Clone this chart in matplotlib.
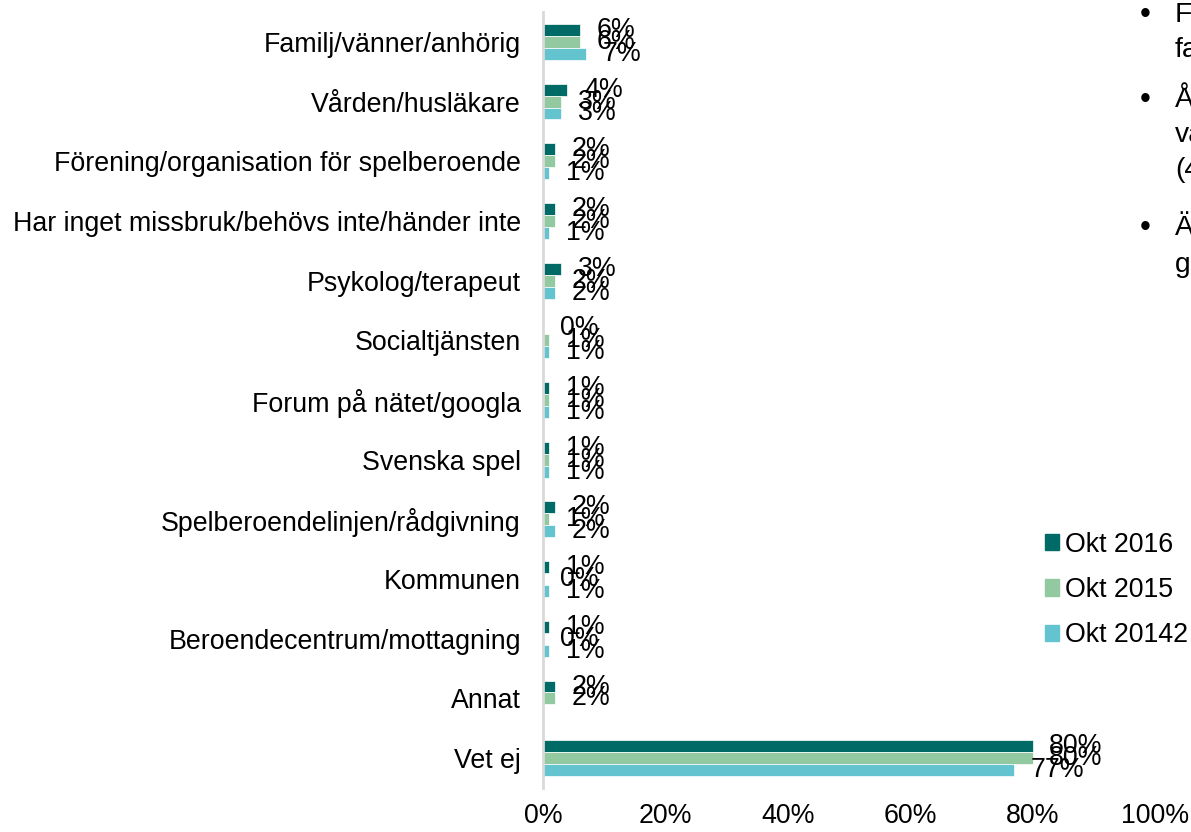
import numpy as np
import matplotlib
matplotlib.use('Agg')
import matplotlib.pyplot as plt
from matplotlib.patches import Patch

plt.rcParams['font.family'] = ['Liberation Sans', 'DejaVu Sans']

categories = ['Familj/vänner/anhörig', 'Vården/husläkare', 'Förening/organisation för spelberoende',
              'Har inget missbruk/behövs inte/händer inte', 'Psykolog/terapeut', 'Socialtjänsten',
              'Forum på nätet/googla', 'Svenska spel', 'Spelberoendelinjen/rådgivning', 'Kommunen',
              'Beroendecentrum/mottagning', 'Annat', 'Vet ej']
okt2016 = [6, 4, 2, 2, 3, 0, 1, 1, 2, 1, 1, 2, 80]
okt2015 = [6, 3, 2, 2, 2, 1, 1, 1, 1, 0, 0, 2, 80]
okt2014 = [7, 3, 1, 1, 2, 1, 1, 1, 2, 1, 1, np.nan, 77]
series = [('Okt 2016', okt2016, '#006B66'), ('Okt 2015', okt2015, '#93C9A0'), ('Okt 20142', okt2014, '#63C3CF')]
xticks = [0, 20, 40, 60, 80, 100]

W, H = 1191, 832
fig = plt.figure(figsize=(W / 100, H / 100), dpi=100)
ax = fig.add_axes([543 / W, 1 - 788 / H, (1155 - 543) / W, (788 - 12) / H])

y = np.arange(len(categories))
fs = 19.3
for k, (name, vals, col) in enumerate(series):
    yy = y + (k - 1) * 0.2
    ax.barh(yy, vals, height=0.2, color=col, edgecolor='white', linewidth=0.5)
    for yi, v in zip(yy, vals):
        if np.isnan(v):
            continue
        ax.text(v + 2.7, yi, f'{int(v)}%', va='center', ha='left', fontsize=fs, color='black')

ax.set_xlim(0, 100)
ax.set_ylim(len(categories) - 0.5, -0.5)
ax.set_xticks(xticks)
ax.set_xticklabels([f'{t}%' for t in xticks])
ax.set_yticks(y)
ax.set_yticklabels(categories)
ax.tick_params(axis='x', length=0, pad=11, labelsize=fs)
ax.tick_params(axis='y', length=0, pad=16, labelsize=fs)
for s in ['top', 'right', 'bottom']:
    ax.spines[s].set_visible(False)
ax.spines['left'].set_color('#D9D9D9')
ax.spines['left'].set_linewidth(2)

handles = [Patch(color=c, label=n) for n, _, c in series]
fig.legend(handles=handles, loc='upper left', bbox_to_anchor=(1034 / W, 1 - 521 / H), frameon=False,
           fontsize=fs, handlelength=0.55, handleheight=0.55, handletextpad=0.2, labelspacing=0.72,
           borderaxespad=0)

# cut-off bullet text from the slide
bullets = [(1140, 1175, 15, '•', 'F'), (None, 1175, 50, None, 'fa'),
           (1140, 1175, 100, '•', 'Å'), (None, 1175, 135, None, 'va'), (None, 1175, 170, None, '(4'),
           (1140, 1175, 228, '•', 'Ä'), (None, 1175, 265, None, 'g')]
for bx, tx, ty, b, t in bullets:
    if b:
        fig.text(bx / W, 1 - ty / H, b, fontsize=fs + 3, va='center', ha='left')
    fig.text(tx / W, 1 - ty / H, t, fontsize=fs + 1, va='center', ha='left')

fig.savefig('out.png', dpi=100)
